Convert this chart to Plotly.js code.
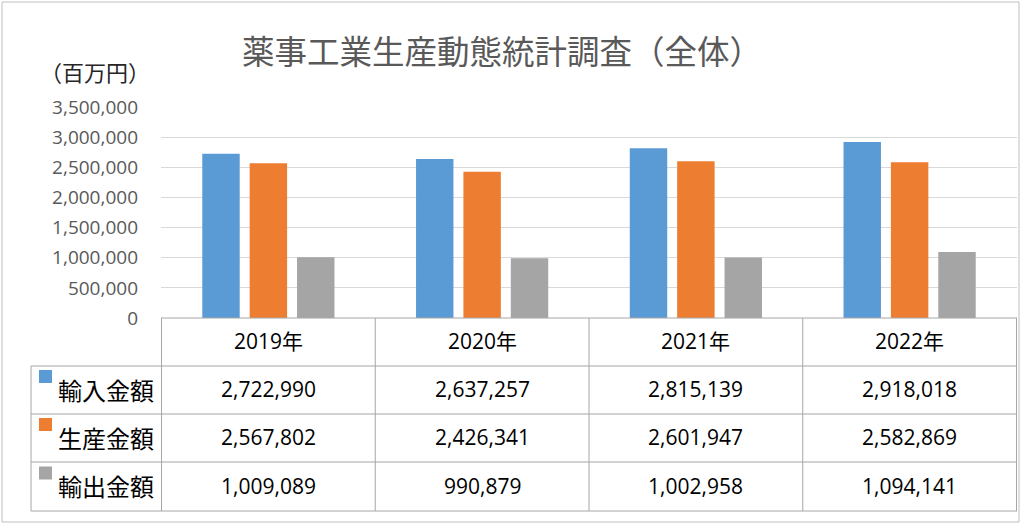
<!DOCTYPE html>
<html>
<head>
<meta charset="utf-8">
<script src="https://cdn.plot.ly/plotly-3.0.1.min.js"></script>
<style>html,body{margin:0;padding:0;background:#fff;}#chart{width:1024px;height:528px;}</style>
</head>
<body>
<div id="chart"></div>
<script>
// ---- data ----
const years = ['2019年', '2020年', '2021年', '2022年'];
const seriesNames = ['輸入金額', '生産金額', '輸出金額'];
const importValues = [2722990, 2637257, 2815139, 2918018];
const productionValues = [2567802, 2426341, 2601947, 2582869];
const exportValues = [1009089, 990879, 1002958, 1094141];
const titleText = '薬事工業生産動態統計調査（全体）';
const unitText = '（百万円）';

// ---- styling / layout helpers ----
const colors = ['#5B9BD5', '#ED7D31', '#A5A5A5'];
const seriesValues = [importValues, productionValues, exportValues];
const W = 1024, H = 528, L = 161, R = 1017, T = 107, B = 318;
const px = x => (x - L) / (R - L);
const py = y => (B - y) / (B - T);
const rowEdges = [318, 366, 414, 462, 511];
const tableLine = '#A6A6A6';
const numFont = 'Open Sans, Noto Sans CJK JP, sans-serif';
const jpFont = 'Noto Sans CJK JP, sans-serif';

const traces = seriesNames.map((name, s) => ({
  type: 'bar',
  name: name,
  x: years,
  y: seriesValues[s],
  marker: {color: colors[s], line: {width: 0}},
  hoverinfo: 'skip'
}));

const shapes = [];
const annotations = [];

// outer border
shapes.push({type: 'rect', xref: 'paper', yref: 'paper', x0: px(2), x1: px(1019), y0: py(522), y1: py(2),
  line: {color: '#BFBFBF', width: 1}, fillcolor: 'rgba(0,0,0,0)'});

// table horizontal lines
rowEdges.forEach((y, i) => {
  shapes.push({type: 'line', xref: 'paper', yref: 'paper', x0: px(i === 0 ? L : 31), x1: px(R), y0: py(y), y1: py(y),
    line: {color: tableLine, width: 1}});
});
// left column line
shapes.push({type: 'line', xref: 'paper', yref: 'paper', x0: px(31), x1: px(31), y0: py(rowEdges[1]), y1: py(rowEdges[4]),
  line: {color: tableLine, width: 1}});
// category column boundaries
for (let i = 0; i <= years.length; i++) {
  shapes.push({type: 'line', xref: 'x', yref: 'paper', x0: i - 0.5, x1: i - 0.5, y0: py(rowEdges[0]), y1: py(rowEdges[4]),
    line: {color: tableLine, width: 1}});
}

// header years
years.forEach((yr, i) => {
  annotations.push({xref: 'x', yref: 'paper', x: i, y: py((rowEdges[0] + rowEdges[1]) / 2 - 1), text: yr, showarrow: false,
    xanchor: 'center', yanchor: 'middle', font: {family: numFont, size: 21, color: '#000'}});
});

// rows
seriesNames.forEach((name, s) => {
  const yc = (rowEdges[s + 1] + rowEdges[s + 2]) / 2 - 1;
  // legend key
  shapes.push({type: 'rect', xref: 'paper', yref: 'paper', x0: px(39), x1: px(52), y0: py(yc - 6), y1: py(yc - 19),
    line: {width: 0}, fillcolor: colors[s]});
  annotations.push({xref: 'paper', yref: 'paper', x: px(56), y: py(yc), text: name, showarrow: false,
    xanchor: 'left', yanchor: 'middle', font: {family: jpFont, size: 24, color: '#000'}});
  seriesValues[s].forEach((v, i) => {
    annotations.push({xref: 'x', yref: 'paper', x: i, y: py(yc), text: v.toLocaleString('en-US'), showarrow: false,
      xanchor: 'center', yanchor: 'middle', font: {family: numFont, size: 21, color: '#000'}});
  });
});

// title and unit
annotations.push({xref: 'paper', yref: 'paper', x: px(502), y: py(49), text: titleText, showarrow: false,
  xanchor: 'center', yanchor: 'middle', font: {family: jpFont, size: 32.5, color: '#595959'}});
annotations.push({xref: 'paper', yref: 'paper', x: px(95), y: py(71), text: unitText, showarrow: false,
  xanchor: 'center', yanchor: 'middle', font: {family: jpFont, size: 22, color: '#262626'}});

const layout = {
  width: W, height: H,
  margin: {l: L, r: W - R, t: T, b: H - B, pad: 0},
  paper_bgcolor: '#fff', plot_bgcolor: '#fff',
  showlegend: false,
  barmode: 'group', bargap: 0.335, bargroupgap: 0.21,
  xaxis: {type: 'category', showticklabels: false, showgrid: false, zeroline: false, showline: false, ticks: '', fixedrange: true},
  yaxis: {range: [0, 3500000], dtick: 500000, tickformat: ',d', showgrid: true, gridcolor: '#D9D9D9', gridwidth: 1,
    zeroline: false, showline: false, ticks: '', ticklabelstandoff: 22,
    tickfont: {family: numFont, size: 19, color: '#595959'}, fixedrange: true},
  shapes: shapes,
  annotations: annotations,
  font: {family: numFont}
};

Plotly.newPlot('chart', traces, layout, {staticPlot: true, displayModeBar: false});
</script>
</body>
</html>
